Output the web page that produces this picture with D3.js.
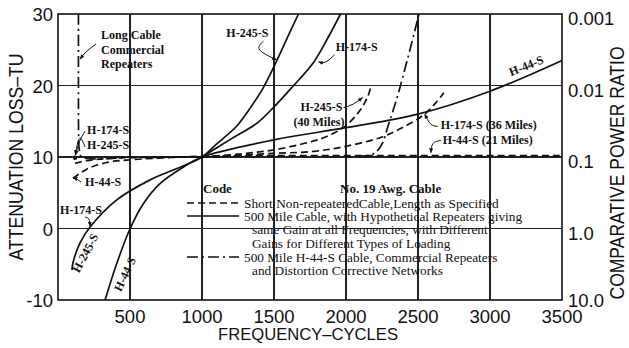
<!DOCTYPE html>
<html>
<head>
<meta charset="utf-8">
<title>Attenuation loss vs frequency</title>
<style>
  body { margin: 0; background: #fff; }
  svg { display: block; }
  .grid line { stroke: #222; stroke-width: 1.1px; shape-rendering: crispEdges; }
  .curve { fill: none; stroke: #111; stroke-width: 1.7px; }
  .tick { font-family: "Liberation Sans", Arial, sans-serif; font-size: 18.5px; fill: #111; }
  .title { font-family: "Liberation Sans", Arial, sans-serif; font-size: 21px; fill: #111; }
  .lbl { font-family: "Liberation Serif", "Times New Roman", serif; font-size: 12px; font-weight: bold; fill: #111; }
  .leg { font-family: "Liberation Serif", "Times New Roman", serif; font-size: 13.3px; fill: #111; }
</style>
</head>
<body>
<div id="chart"></div>
<script src="https://d3js.org/d3.v7.min.js"></script>
<script>

// tick labels
var freqTicks = [500, 1000, 1500, 2000, 2500, 3000, 3500];
var lossTicks = [-10, 0, 10, 20, 30];
var ratioLabels = ["10.0", "1.0", "0.1", "0.01", "0.001"];   // same positions as lossTicks

// series: [frequency (cycles), attenuation loss (TU)]
// solid - 500 mile cable, hypothetical repeaters
var h245Solid = [[97, -5.8], [104, -4.8], [153, -2.0], [223, 0.2], [408, 4.0], [640, 6.8], [826, 8.4], [1000, 10],
                 [1100, 11.8], [1240, 14.3], [1340, 17], [1420, 19.5], [1520, 23.5], [1600, 27], [1670, 30]];
var h174Solid = [[1000, 10], [1200, 12.5], [1380, 14.7], [1500, 17], [1614, 19.5], [1777, 23.3], [1870, 26.5], [1962, 30]];
var h44Solid  = [[327, -10], [408, -4.9], [501, 0], [594, 3.5], [710, 6.3], [872, 8.6], [1000, 10],
                 [1500, 12.4], [2000, 14.1], [2500, 16.0], [3000, 19.2], [3500, 23.5]];
// dashed - short non-repeatered cable
var h174h245Short = [[118, 9.1], [200, 9.5], [400, 9.85], [700, 9.95], [1000, 10]];
var h44Short21 = [[104, 7.0], [200, 8.3], [330, 9.2], [500, 9.6], [800, 9.95], [1000, 10.1],
                  [1500, 10.2], [2000, 10.2], [2500, 10.2], [3000, 10.2], [3500, 10.2]];
var h174Short36 = [[1000, 10], [1500, 10.5], [1780, 10.8], [2000, 11.5], [2250, 12.8], [2400, 14.2], [2540, 15.9], [2620, 17.5], [2680, 19]];
var h245Short40 = [[1000, 10], [1250, 10.4], [1500, 11.0], [1750, 12.1], [1870, 12.9], [2000, 14.4], [2100, 16.6], [2150, 18.4], [2175, 20]];
// dash-dot - commercial repeaters
var longCableCommercial = [[142, 30], [142, 20], [143, 13.5], [148, 11], [165, 10], [500, 10]];
var h44Commercial = [[2080, 10.15], [2170, 10.25], [2215, 10.8], [2255, 12], [2290, 14.2], [2356, 18.4], [2426, 23.6], [2507, 30]];

var margin = {top: 14, right: 67, bottom: 48, left: 58},
    width  = 629 - margin.left - margin.right,
    height = 348 - margin.top - margin.bottom;

var x = d3.scaleLinear().domain([0, 3500]).range([margin.left, margin.left + width]);
var y = d3.scaleLinear().domain([-10, 30]).range([margin.top + height, margin.top]);

var svg = d3.select("#chart").append("svg")
    .attr("width", 629)
    .attr("height", 348);

svg.append("defs").append("marker")
    .attr("id", "head")
    .attr("viewBox", "0 0 10 10")
    .attr("refX", 9).attr("refY", 5)
    .attr("markerWidth", 5).attr("markerHeight", 5)
    .attr("orient", "auto")
  .append("path")
    .attr("d", "M0,1 L10,5 L0,9 z")
    .attr("fill", "#111");

// grid + frame
var grid = svg.append("g").attr("class", "grid");
grid.selectAll(".v").data(freqTicks.slice(0, -1)).enter().append("line")
    .attr("x1", d => x(d)).attr("x2", d => x(d))
    .attr("y1", y(30)).attr("y2", y(-10));
grid.selectAll(".h").data([0, 10, 20]).enter().append("line")
    .attr("x1", x(0)).attr("x2", x(3500))
    .attr("y1", d => y(d)).attr("y2", d => y(d));
svg.append("rect")
    .attr("x", x(0)).attr("y", y(30))
    .attr("width", width).attr("height", height)
    .attr("fill", "none").attr("stroke", "#111").attr("stroke-width", 1.6);

// axes labels (drawn as text, like the printed chart)
svg.selectAll(".yl").data(lossTicks).enter().append("text")
    .attr("class", "tick")
    .attr("x", x(0) - 5).attr("y", d => y(d) + 7)
    .attr("text-anchor", "end")
    .text(d => d);
svg.selectAll(".yr").data(lossTicks).enter().append("text")
    .attr("class", "tick")
    .attr("x", x(3500) + 6).attr("y", d => y(d) + (d === -10 ? 7 : 11))
    .text((d, i) => ratioLabels[i]);
svg.selectAll(".xl").data(freqTicks).enter().append("text")
    .attr("class", "tick")
    .attr("x", d => x(d)).attr("y", y(-10) + 22.5)
    .attr("text-anchor", "middle")
    .text(d => d);

svg.append("text").attr("class", "title")
    .attr("transform", "translate(23,157) rotate(-90)")
    .attr("text-anchor", "middle")
    .attr("textLength", 207).attr("lengthAdjust", "spacingAndGlyphs")
    .text("ATTENUATION LOSS\u2013TU");
svg.append("text").attr("class", "title")
    .attr("transform", "translate(623.5,173) rotate(-90)")
    .attr("text-anchor", "middle")
    .style("font-size", "20px")
    .attr("textLength", 253).attr("lengthAdjust", "spacingAndGlyphs")
    .text("COMPARATIVE POWER RATIO");
svg.append("text").attr("class", "title")
    .attr("x", 308).attr("y", 340)
    .attr("text-anchor", "middle")
    .style("font-size", "17px")
    .attr("textLength", 180).attr("lengthAdjust", "spacingAndGlyphs")
    .text("FREQUENCY\u2013CYCLES");

// curves
var line = d3.line()
    .x(d => x(d[0]))
    .y(d => y(d[1]))
    .curve(d3.curveCatmullRom.alpha(0.5));

var dashed = "7,4", dashDot = "11,4,2,4";
var series = [
  {pts: h245Solid, dash: null},
  {pts: h174Solid, dash: null},
  {pts: h44Solid, dash: null},
  {pts: h174h245Short, dash: dashed},
  {pts: h44Short21, dash: dashed},
  {pts: h174Short36, dash: dashed},
  {pts: h245Short40, dash: dashed},
  {pts: longCableCommercial, dash: dashDot},
  {pts: h44Commercial, dash: dashDot}
];
svg.selectAll(".curve").data(series).enter().append("path")
    .attr("class", "curve")
    .attr("d", d => line(d.pts))
    .attr("stroke-dasharray", d => d.dash);

svg.append("circle").attr("cx", x(118)).attr("cy", y(9.9)).attr("r", 2.2).attr("fill", "#111");

// curve labels, positioned in data units
var labels = [
  {t: ["Long Cable", "Commercial", "Repeaters"], at: [299, 26.5]},
  {t: ["H-245-S"], at: [1169, 26.8]},
  {t: ["H-174-S"], at: [1928, 24.8]},
  {t: ["H-245-S", "(40 Miles)"], at: [1684, 16.4], dx: [0, -7]},
  {t: ["H-44-S"], at: [3146, 21.3], rot: -22},
  {t: ["H-174-S (36 Miles)"], at: [2658, 13.9]},
  {t: ["H-44-S (21 Miles)"], at: [2672, 11.8]},
  {t: ["H-174-S", "H-245-S"], at: [202, 13.2], lh: 15},
  {t: ["H-44-S"], at: [188, 5.9]},
  {t: ["H-174-S"], at: [14, 2.0]},
  {t: ["H-245-S"], at: [146, -6.3], rot: -62},
  {t: ["H-44-S"], at: [438, -8.9], rot: -65}
];
labels.forEach(function(l) {
  var g = svg.append("text").attr("class", "lbl")
      .attr("transform", "translate(" + x(l.at[0]) + "," + y(l.at[1]) + ")" + (l.rot ? " rotate(" + l.rot + ")" : ""));
  l.t.forEach(function(s, i) {
    g.append("tspan").attr("x", l.dx ? l.dx[i] : 0).attr("y", i * (l.lh || 14.5)).text(s);
  });
});

var arrows = [
  [[264, 25.8], [200, 24.8], [153, 23.7]],
  [[1427, 26.2], [1400, 25.0], [1517, 23.6]],
  [[1921, 24.3], [1860, 23.3], [1809, 23.3]],
  [[1983, 16.9], [2050, 17.4], [2115, 18.3]],
  [[2637, 14.3], [2589, 14.6], [2547, 16.0]],
  [[2658, 12.3], [2605, 11.9], [2589, 10.6]],
  [[188, 13.6], [150, 12.2], [123, 10.3]],
  [[188, 11.4], [150, 12.6], [120, 10.3]],
  [[160, 6.5], [130, 6.9], [104, 7.1]],
  [[188, 1.6], [215, 1.3], [222, 0.3]]
];
var arrowLine = d3.line().x(d => x(d[0])).y(d => y(d[1])).curve(d3.curveNatural);
svg.selectAll(".arrow").data(arrows).enter().append("path")
    .attr("d", arrowLine)
    .attr("fill", "none").attr("stroke", "#111").attr("stroke-width", 1)
    .attr("marker-end", "url(#head)");

// legend
var legendItems = [
  {dash: dashed, lines: ["Short Non-repeateredCable,Length as Specified"]},
  {dash: null, lines: ["500 Mile Cable, with Hypothetical Repeaters giving", "same Gain at all Frequencies, with Different", "Gains for Different Types of Loading"]},
  {dash: dashDot, lines: ["500 Mile H-44-S Cable, Commercial Repeaters", "and Distortion Corrective Networks"]}
];
var legend = svg.append("g").attr("transform", "translate(187,194)");
legend.append("text").attr("class", "leg").attr("x", 16).attr("y", -1).style("font-size", "13px").style("font-weight", "bold").text("Code");
legend.append("text").attr("class", "leg").attr("x", 153).attr("y", -1).style("font-size", "13px").style("font-weight", "bold").text("No. 19 Awg. Cable");
var rowY = [9, 22, 63];
legendItems.forEach(function(it, i) {
  legend.append("line")
      .attr("x1", 0).attr("x2", 52)
      .attr("y1", rowY[i]).attr("y2", rowY[i])
      .attr("stroke", "#111").attr("stroke-width", 1.7)
      .attr("stroke-dasharray", it.dash);
  it.lines.forEach(function(s, j) {
    legend.append("text").attr("class", "leg")
        .attr("x", j === 0 ? 57 : 65)
        .attr("y", rowY[i] + 4.5 + j * 13.5)
        .text(s);
  });
});

</script>
</body>
</html>
